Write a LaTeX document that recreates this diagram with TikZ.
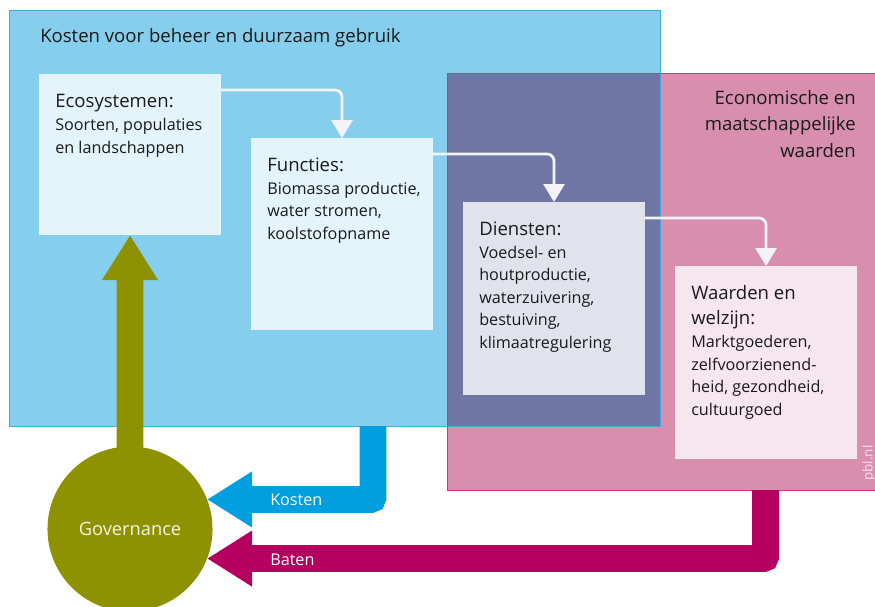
\documentclass[tikz,border=0pt]{standalone}
\usepackage{fontspec}
\setmainfont{Open Sans}
\usepackage{xcolor}
\usetikzlibrary{arrows.meta,calc}

\definecolor{beheerblauw}{HTML}{85CEEE}
\definecolor{beheerrand}{HTML}{3CAEE3}
\definecolor{waardenroze}{HTML}{D78FAD}
\definecolor{waardenrand}{HTML}{CF3784}
\definecolor{overlap}{HTML}{6F76A5}
\definecolor{vaklicht}{HTML}{E4F4FB}
\definecolor{vakgrijs}{HTML}{E2E2EC}
\definecolor{vakroze}{HTML}{F6E6EE}
\definecolor{lijnwit}{HTML}{F4F4F8}
\definecolor{govgroen}{HTML}{8E9200}
\definecolor{govtekst}{HTML}{F4F4E4}
\definecolor{kostenblauw}{HTML}{009FE0}
\definecolor{batenrood}{HTML}{B5005F}
\definecolor{tekstzwart}{HTML}{1A1A1A}

\newcommand{\kop}{\fontsize{13.2}{17.8}\selectfont}

\tikzset{
  kader/.style={anchor=north west, inner sep=0pt, outer sep=0pt},
  vak/.style={anchor=north west, inner sep=0pt, outer sep=0pt, minimum width=4.55cm},
  vaktekst/.style={anchor=base west, align=left, inner sep=0pt, text=tekstzwart,
    font=\fontsize{11.5}{15.9}\selectfont},
  titel/.style={anchor=base west, inner sep=0pt, text=tekstzwart, font=\kop},
  verbinding/.style={draw=lijnwit, line width=2pt, rounded corners=5pt,
    -{Triangle[width=15pt,length=12.8pt]}},
  stroom/.style={line width=19pt, rounded corners=1.5pt,
    -{Triangle[width=37.5pt,length=32pt]}},
  label/.style={anchor=base west, inner sep=0pt, text=white,
    font=\fontsize{11.5}{14}\selectfont}
}

\begin{document}
\begin{tikzpicture}[x=0.025cm, y=-0.025cm]
\useasboundingbox (0,0) rectangle (875,606);
\clip (0,0) rectangle (875,606);

% grote vlakken
\node[kader, fill=beheerblauw, minimum width=16.275cm, minimum height=10.4cm] (beheer) at (9,10) {};
\node[kader, fill=waardenroze, minimum width=10.95cm, minimum height=10.41cm] (maatschappij) at (447,73.5) {};
\fill[overlap] (maatschappij.north west) rectangle (beheer.south east);
\draw[waardenrand, line width=0.7pt] (maatschappij.north west) rectangle (maatschappij.south east);
\draw[beheerrand, line width=0.7pt] (beheer.north west) rectangle (beheer.south east);

\node[titel] (beheertitel) at (40,42) {Kosten voor beheer en duurzaam gebruik};
\node[titel, anchor=base east, align=right, font=\fontsize{13.2}{18.5}\selectfont] (waardentitel) at (856,157)
  {Economische en\\maatschappelijke\\waarden};

% vakken
\foreach \naam/\x/\y/\h/\kleur in {eco/39/74/4.025/vaklicht, functies/251/138/4.8/vaklicht,
  diensten/463/202/4.825/vakgrijs, waarden/675/266/4.825/vakroze}
  \node[vak, fill=\kleur, minimum height=\h cm] (\naam) at (\x,\y) {};

% tekst staat met de onderste regel op de basislijn
\node[vaktekst] (ecotekst) at ($(eco.north west)+(16,79)$)
  {{\kop Ecosystemen:}\\[0.5pt]Soorten, populaties\\en landschappen};
\node[vaktekst] (functiestekst) at ($(functies.north west)+(16,101)$)
  {{\kop Functies:}\\[0.5pt]Biomassa productie,\\water stromen,\\koolstofopname};
\node[vaktekst] (dienstentekst) at ($(diensten.north west)+(16,146)$)
  {{\kop Diensten:}\\[0.5pt]Voedsel- en\\houtproductie,\\waterzuivering,\\bestuiving,\\klimaatregulering};
\node[vaktekst] (waardentekst) at ($(waarden.north west)+(16,149)$)
  {{\kop Waarden en}\\[2pt]{\kop welzijn:}\\[0.5pt]Marktgoederen,\\zelfvoorzienend-\\heid, gezondheid,\\cultuurgoed};

\foreach \a/\b in {eco/functies, functies/diensten, diensten/waarden}
  \draw[verbinding] ($(\a.north east)+(0,16)$) -| (\b.north);

% governance en geldstromen
\node[circle, fill=govgroen, minimum size=4.125cm, inner sep=0pt, outer sep=0pt,
  text=govtekst, font=\fontsize{13}{15}\selectfont] (gov) at (130,529) {Governance};
\draw[stroom, govgroen] ($(gov.north)+(0,4)$) -- (eco.south);

\coordinate (kostenbron) at (373,426);
\coordinate (batenbron) at (765.5,490);
\draw[stroom, kostenblauw] (kostenbron) |- (gov.21.5);
\draw[stroom, batenrood] (batenbron) |- (gov.-21.5);
\node[label] (kostenlabel) at (270,505) {Kosten};
\node[label] (batenlabel) at (270,565) {Baten};

\node[rotate=90, anchor=base, inner sep=0pt, text=white, opacity=0.75,
  font=\fontsize{9.5}{11}\selectfont] (pbl) at (872.5,463) {pbl.nl};
\end{tikzpicture}
\end{document}
